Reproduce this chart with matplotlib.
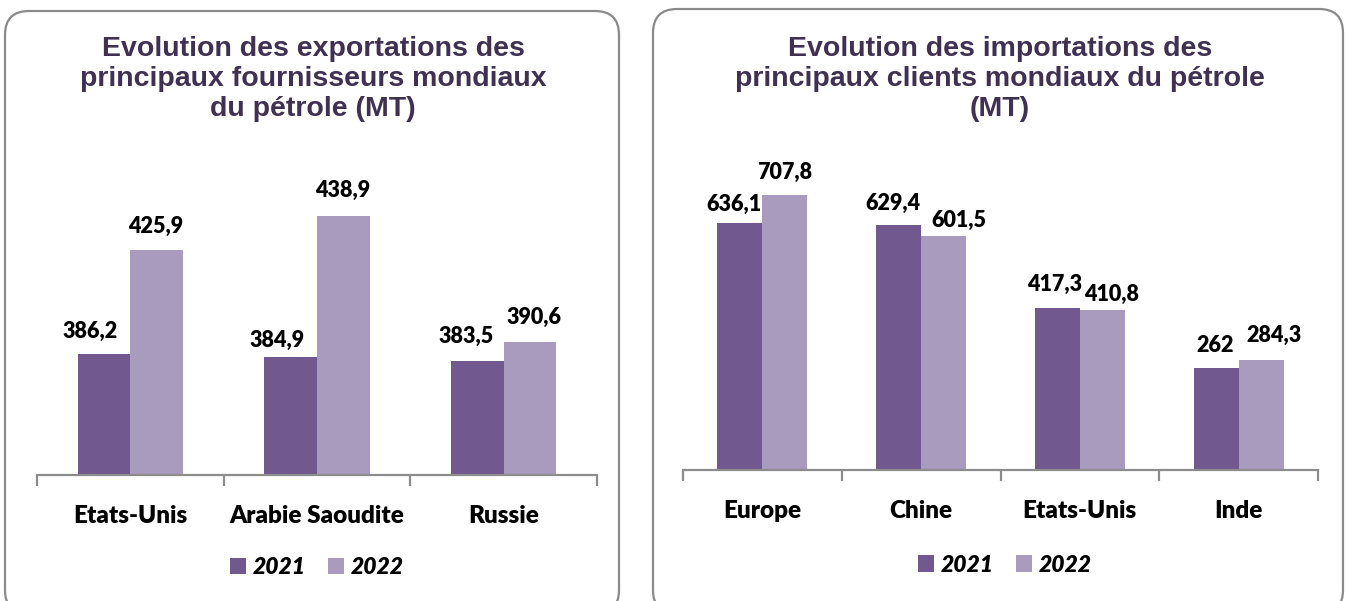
import matplotlib
matplotlib.use("Agg")
import matplotlib.pyplot as plt
from matplotlib.patches import FancyBboxPatch, Patch
import numpy as np

# ---------------- data ----------------
exp_categories = ["Etats-Unis", "Arabie Saoudite", "Russie"]
exp_2021 = [386.2, 384.9, 383.5]
exp_2022 = [425.9, 438.9, 390.6]

imp_categories = ["Europe", "Chine", "Etats-Unis", "Inde"]
imp_2021 = [636.1, 629.4, 417.3, 262.0]
imp_2022 = [707.8, 601.5, 410.8, 284.3]

series_names = ["2021", "2022"]
exp_title = "Evolution des exportations des\nprincipaux fournisseurs mondiaux\ndu pétrole (MT)"
imp_title = "Evolution des importations des\nprincipaux clients mondiaux du pétrole\n(MT)"

# ---------------- style ----------------
C21 = "#71588F"
C22 = "#A99BBE"
TITLE_C = "#3F3151"
AXIS_C = "#8C8C8C"
LABEL_FONT = "Lato"
TITLE_FONT = "Liberation Sans"

W, H = 1346, 601
DPI = 100
fig = plt.figure(figsize=(W / DPI, H / DPI), dpi=DPI)

# background axes in pixel coordinates
bg = fig.add_axes([0, 0, 1, 1], zorder=0)
bg.set_xlim(0, W)
bg.set_ylim(H, 0)
bg.axis("off")

for (x0, y0, x1, y1) in [(5, 11, 619, 614), (653, 9, 1343, 614)]:
    bg.add_patch(FancyBboxPatch((x0, y0), x1 - x0, y1 - y0,
                                boxstyle="round,pad=0,rounding_size=24",
                                facecolor="white", edgecolor="#8A8A8A",
                                linewidth=1.6))

bg.text(313, 36, exp_title, ha="center", va="top", fontsize=20.5,
        fontweight="bold", color=TITLE_C, family=TITLE_FONT, linespacing=1.2)
bg.text(1000, 36, imp_title, ha="center", va="top", fontsize=20.5,
        fontweight="bold", color=TITLE_C, family=TITLE_FONT, linespacing=1.2)

PX = 72.0 / DPI  # points per pixel


def draw_panel(rect, cats, v21, v22, ylim, offs21, offs22):
    ax = fig.add_axes(rect, zorder=2)
    ax.patch.set_alpha(0)
    n = len(cats)
    x = np.arange(n)
    bw = 0.283
    ax.bar(x - bw / 2, v21, width=bw, color=C21, zorder=2)
    ax.bar(x + bw / 2, v22, width=bw, color=C22, zorder=2)
    ax.set_xlim(-0.5, n - 0.5)
    ax.set_ylim(*ylim)
    for s in ["top", "right", "left"]:
        ax.spines[s].set_visible(False)
    ax.spines["bottom"].set_color(AXIS_C)
    ax.spines["bottom"].set_linewidth(1.6)
    ax.set_yticks([])
    ax.set_xticks(x)
    ax.set_xticklabels(cats, fontsize=17.5, fontweight="heavy", family=LABEL_FONT)
    ax.tick_params(axis="x", which="major", length=0, pad=21.5)
    ax.set_xticks(np.arange(n + 1) - 0.5, minor=True)
    ax.tick_params(axis="x", which="minor", length=8, width=1.6,
                   color=AXIS_C, direction="out")
    for vals, xs, offs in [(v21, x - bw / 2, offs21), (v22, x + bw / 2, offs22)]:
        for xi, v, (dx, dy) in zip(xs, vals, offs):
            ax.annotate(f"{v:g}".replace(".", ","), (xi, v),
                        xytext=(dx * PX, dy * PX), textcoords="offset points",
                        ha="center", va="center", fontsize=15.5,
                        fontweight="heavy", family=LABEL_FONT, color="black")
    return ax


# left: baseline y=475 px, axis from x=37 to 597
top_px = 150
draw_panel([37 / W, (H - 475) / H, 560 / W, (475 - top_px) / H],
           exp_categories, exp_2021, exp_2022,
           (340, 340 + (475 - top_px) / 2.62),
           [(-14, 23), (-14, 17), (-11, 25)],
           [(-1, 24), (-1, 25), (4, 25)])

# right: baseline y=470 px, axis from x=683 to 1318
draw_panel([683 / W, (H - 470) / H, 635 / W, (470 - top_px) / H],
           imp_categories, imp_2021, imp_2022,
           (0, (470 - top_px) / 0.3885),
           [(-6, 18), (-6, 22), (-3, 23), (-1, 23)],
           [(0, 23), (15, 16), (9, 16), (13, 24)])

handles = [Patch(facecolor=C21, edgecolor="none"), Patch(facecolor=C22, edgecolor="none")]
for cx, cy in [(317, 567.5), (1005, 565)]:
    fig.legend(handles, series_names, loc="center",
               bbox_to_anchor=(cx / W, 1 - cy / H), ncol=2, frameon=False,
               prop=dict(family=LABEL_FONT, weight="heavy", style="italic", size=16.5),
               handlelength=0.7, handleheight=0.7, handletextpad=0.3,
               columnspacing=0.95, borderaxespad=0)

fig.savefig("out.png", dpi=DPI)
